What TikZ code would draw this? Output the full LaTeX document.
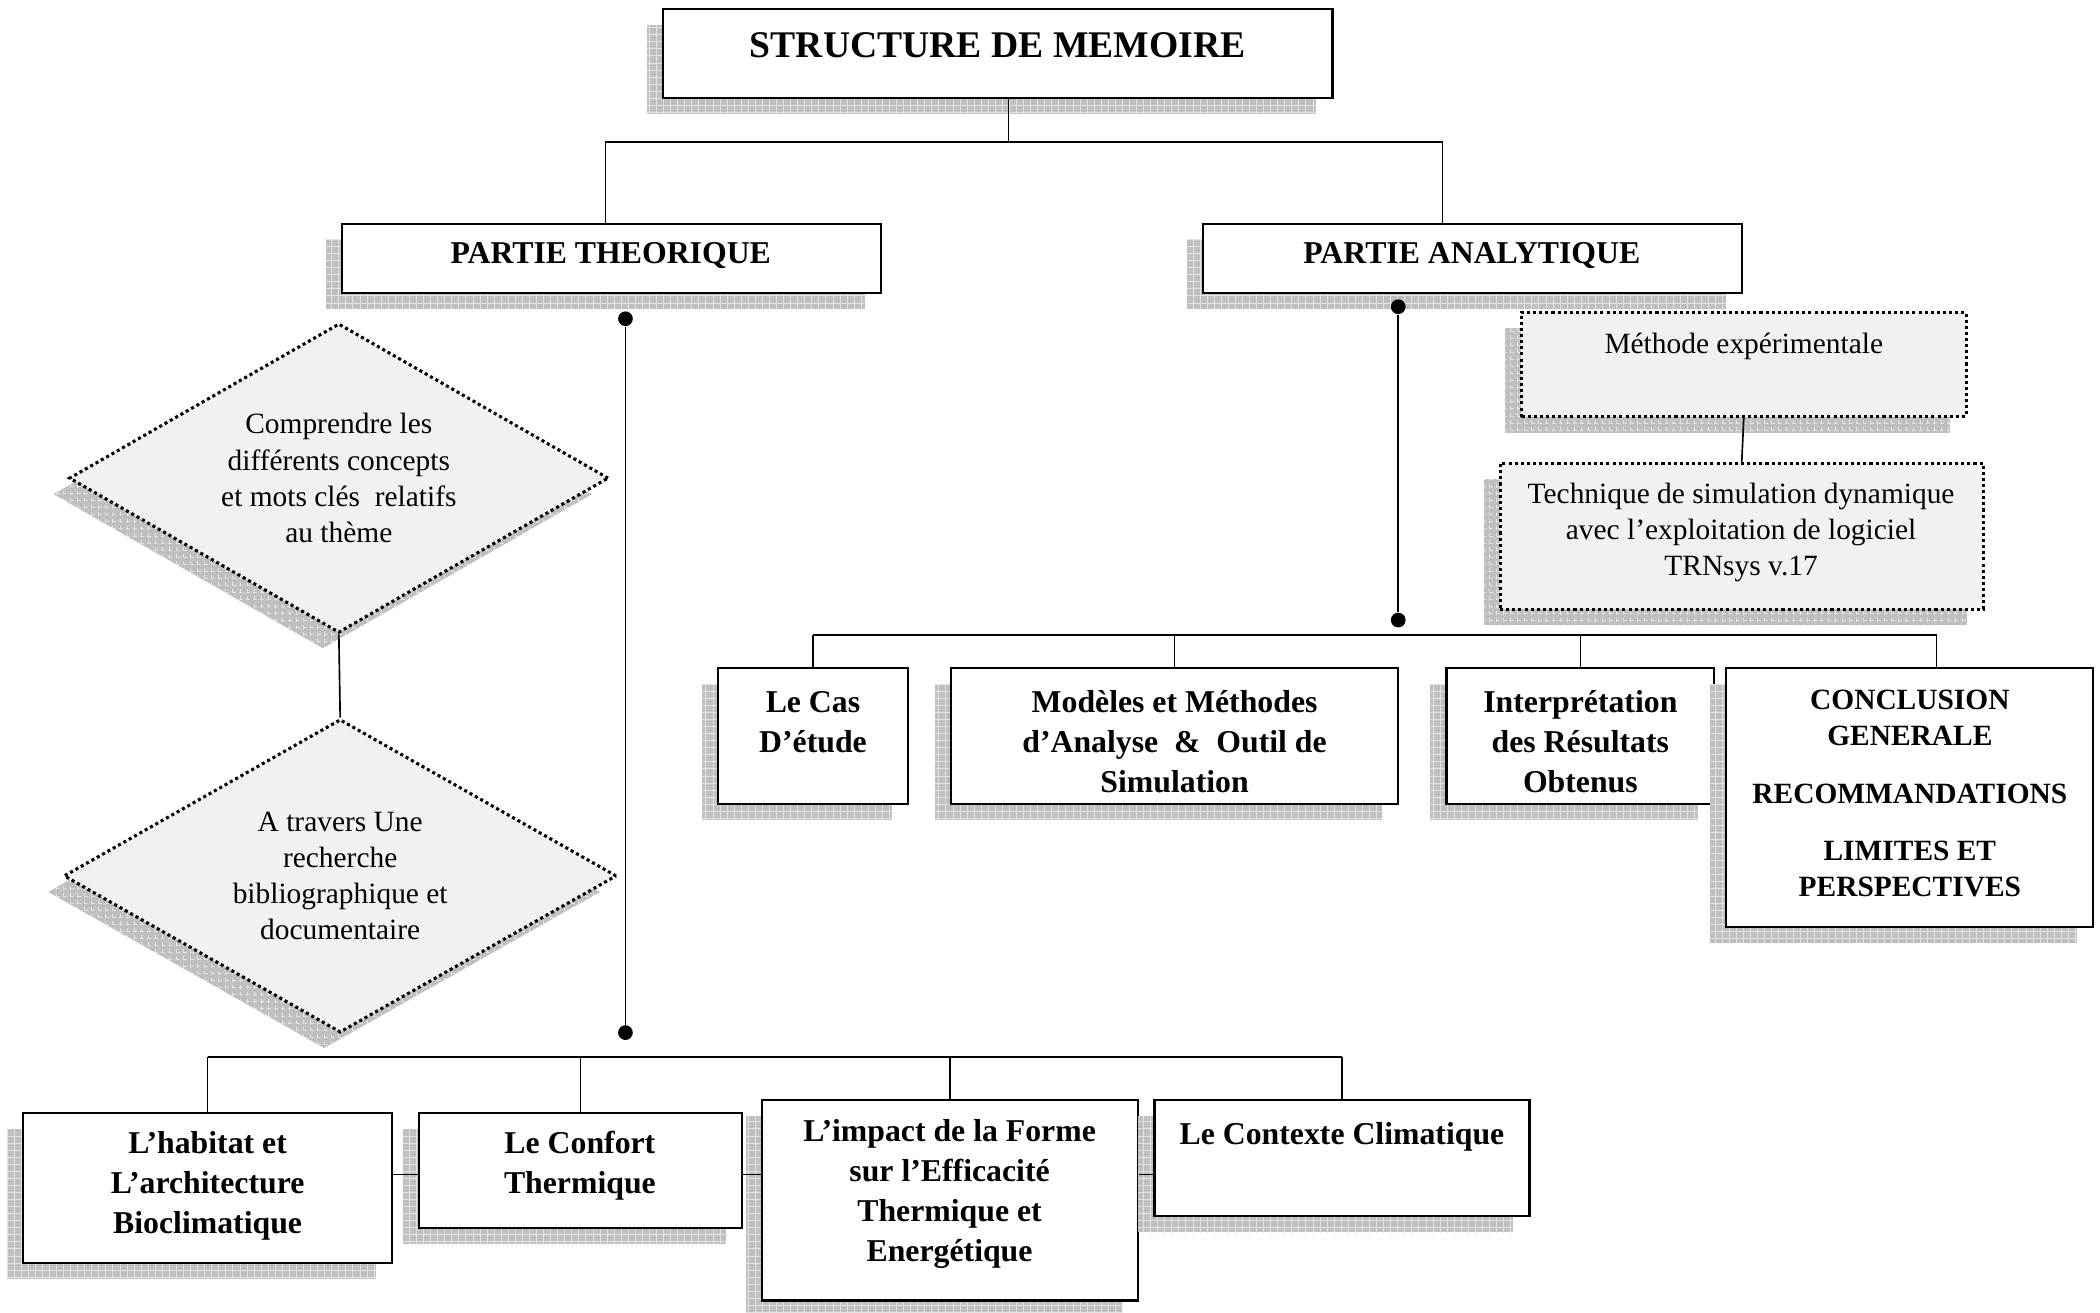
\documentclass[tikz,border=0pt]{standalone}
\usepackage{fontspec}
\setmainfont{Liberation Serif}
\usetikzlibrary{shapes.geometric}
\usetikzlibrary{shadows}
\usetikzlibrary{patterns}

\tikzset{
  shad/.style={general shadow={fill=gray!50,shadow xshift=-0.24cm,shadow yshift=-0.24cm},
               general shadow={pattern=grid,pattern color=gray!22,shadow xshift=-0.24cm,shadow yshift=-0.24cm}},
  box/.style={shad,draw,fill=white,line width=0.9pt,inner sep=0pt},
  dotbox/.style={shad,draw,fill=gray!11,line width=1.3pt,dash pattern=on 1.3pt off 1.3pt,inner sep=0pt},
  losange/.style={dotbox,diamond,shape aspect=2,align=center,font=\fontsize{12.5}{15.4}\selectfont},
  txt/.style={align=center,inner sep=0pt,yshift=-0.05cm,font=\fontsize{13.5}{17}\selectfont\bfseries},
  txtn/.style={align=center,inner sep=0pt,yshift=-0.05cm,font=\fontsize{12.5}{15.4}\selectfont},
  link/.style={line width=0.7pt},
  dot/.style={circle,fill,inner sep=0pt,minimum size=0.22cm},
}

\begin{document}
\begin{tikzpicture}[x=0.02cm,y=-0.02cm]
\useasboundingbox (0,0) rectangle (1568,980);

% titre et les deux parties
\node[box,minimum width=10cm,minimum height=1.32cm] (memoire) at (745,40) {};
\node[txt,font=\fontsize{16}{19}\selectfont\bfseries] (memoireT) at (745,31) {STRUCTURE DE MEMOIRE};
\node[box,minimum width=8.06cm,minimum height=1.04cm] (theo) at (456.5,193) {};
\node[txt] (theoT) at (456,188) {PARTIE THEORIQUE};
\node[box,minimum width=8.06cm,minimum height=1.04cm] (anal) at (1099.5,193) {};
\node[txt] (analT) at (1099,188) {PARTIE ANALYTIQUE};

\coordinate (tB) at (753,106);
\coordinate (tL) at (452,106);
\coordinate (tR) at (1077,106);
\draw[link] (memoire.south -| tB) -- (tB);
\draw[link] (theo.north -| tL) -- (tL) -- (tR) -- (anal.north -| tR);

% partie theorique
\node[losange,minimum width=8.06cm,minimum height=4.62cm] (comprendre) at (253,357) {Comprendre les\\différents concepts\\et mots clés\ \ relatifs\\au thème};
\node[losange,minimum width=8.26cm,minimum height=4.68cm] (travers) at (254,654) {A travers Une\\recherche\\bibliographique et\\documentaire};
\draw[link] (comprendre.south) -- (travers.north);

\node[dot] (g1) at (467,238) {};
\node[dot] (g2) at (467,771) {};
\draw[link] (g1) -- (g2);

\node[box,minimum width=5.52cm,minimum height=2.24cm] (habitat) at (155,887) {};
\node[txt] (habitatT) at (155,883) {L’habitat et\\L’architecture\\Bioclimatique};
\node[box,minimum width=4.82cm,minimum height=1.72cm] (confort) at (433.5,874) {};
\node[txt] (confortT) at (433,868) {Le Confort\\Thermique};
\node[box,minimum width=5.62cm,minimum height=3cm] (impact) at (709.5,896) {};
\node[txt] (impactT) at (709,889) {L’impact de la Forme\\sur l’Efficacité\\Thermique et\\Energétique};
\node[box,minimum width=5.6cm,minimum height=1.74cm] (contexte) at (1002,864.5) {};
\node[txt] (contexteT) at (1002,846) {Le Contexte Climatique};

\coordinate (bus) at (0,789);
\coordinate (side) at (0,877);
\draw[link] (habitat.north |- bus) -- (contexte.north |- bus);
\foreach \bx in {habitat,confort,impact,contexte}
  \draw[link] (\bx.north |- bus) -- (\bx.north);
\draw[link] (habitat.east |- side) -- (confort.west |- side);
\draw[link] (confort.east |- side) -- (impact.west |- side);
\draw[link] (impact.east |- side) -- (contexte.west |- side);

% partie analytique
\node[dot] (d1) at (1044,229) {};
\node[dot] (d2) at (1044,463) {};
\draw[link] (d1) -- (d2);

\node[dotbox,minimum width=6.64cm,minimum height=1.56cm] (methode) at (1302,272) {};
\node[txtn] (methodeT) at (1302,256) {Méthode expérimentale};
\node[dotbox,minimum width=7.22cm,minimum height=2.18cm] (technique) at (1300.5,400.5) {};
\node[txtn] (techniqueT) at (1300,395) {Technique de simulation dynamique\\avec l’exploitation de logiciel\\TRNsys v.17};
\draw[link] (methode.south) -- (technique.north);

\node[box,minimum width=2.84cm,minimum height=2.02cm] (cas) at (607,549.5) {};
\node[txt] (casT) at (607,537) {Le Cas\\D’étude};
\node[box,minimum width=6.68cm,minimum height=2.02cm] (modeles) at (877,549.5) {};
\node[txt] (modelesT) at (877,551) {Modèles et Méthodes\\d’Analyse\ \ \&\ \ Outil de\\Simulation};
\node[box,minimum width=4cm,minimum height=2.02cm] (interp) at (1180,549.5) {};
\node[txt] (interpT) at (1180,551) {Interprétation\\des Résultats\\Obtenus};
\node[box,minimum width=5.48cm,minimum height=3.86cm] (concl) at (1426,595.5) {};
\node[txt,font=\fontsize{12.5}{15.4}\selectfont\bfseries] (conclT) at (1426,590) {CONCLUSION\\GENERALE\\[9pt]RECOMMANDATIONS\\[9pt]LIMITES ET\\PERSPECTIVES};

\coordinate (rbus) at (0,474);
\coordinate (cx) at (1446,0);
\draw[link] (cas.north |- rbus) -- (cx |- rbus) -- (concl.north -| cx);
\foreach \bx in {cas,modeles,interp}
  \draw[link] (\bx.north |- rbus) -- (\bx.north);

\end{tikzpicture}
\end{document}
